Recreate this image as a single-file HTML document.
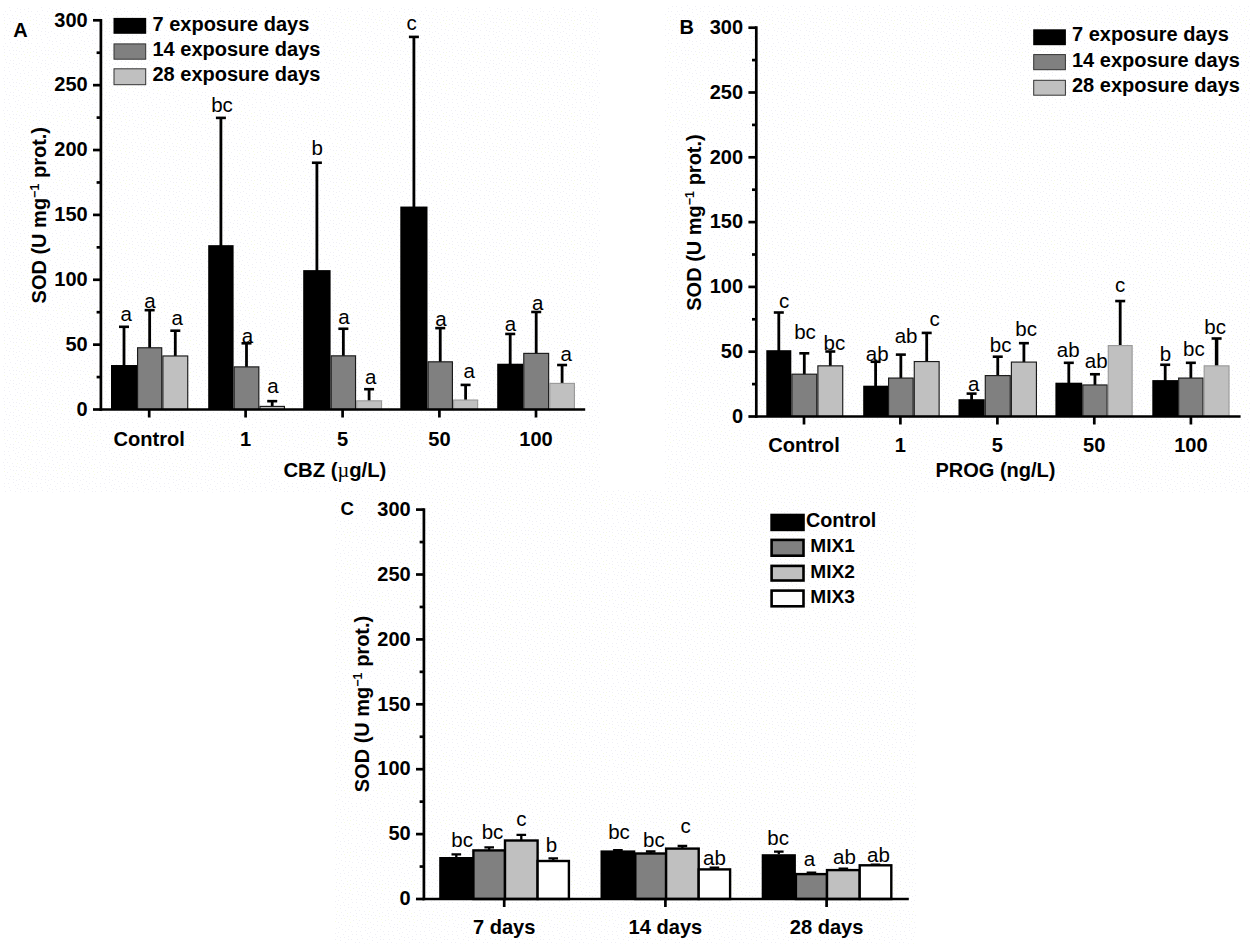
<!DOCTYPE html>
<html lang="en">
<head>
<meta charset="utf-8">
<title>SOD activity figure</title>
<style>
html,body{margin:0;padding:0;background:#fff;}
body{width:1255px;height:948px;overflow:hidden;}
svg{display:block;}
text{font-family:"Liberation Sans", sans-serif;fill:#000;}
.b{font-weight:bold;font-size:20px;}
.r{font-weight:normal;font-size:20.5px;}
.pl{font-size:20px;}
.lg{font-size:20px;}
.yl{font-size:20px;}
.xt{font-size:20.3px;}
.lc{font-size:19.1px;}
.mu{font-family:"Liberation Serif", serif;font-weight:normal;}
.xl{font-size:20.1px;}
.lg2{font-size:19.8px;}
</style>
</head>
<body>
<svg width="1255" height="948" viewBox="0 0 1255 948">
<rect width="1255" height="948" fill="#fff"/>
<defs><pattern id="dots" width="32" height="32" patternUnits="userSpaceOnUse"><rect width="32" height="32" fill="#fff"/><path d="M20 9h1v1h-1zM25 3h1v1h-1zM4 6h1v1h-1zM13 2h1v1h-1zM5 27h1v1h-1zM15 5h1v1h-1zM7 14h1v1h-1zM3 14h1v1h-1zM18 26h1v1h-1zM9 7h1v1h-1zM23 6h1v1h-1zM4 3h1v1h-1zM13 31h1v1h-1zM27 20h1v1h-1zM29 29h1v1h-1zM23 19h1v1h-1zM15 11h1v1h-1zM19 31h1v1h-1zM21 28h1v1h-1zM18 4h1v1h-1zM10 21h1v1h-1zM9 31h1v1h-1zM4 20h1v1h-1zM21 22h1v1h-1zM22 1h1v1h-1zM31 3h1v1h-1zM13 18h1v1h-1zM25 25h1v1h-1zM10 28h1v1h-1zM5 11h1v1h-1zM31 11h1v1h-1zM16 18h1v1h-1zM6 30h1v1h-1zM13 28h1v1h-1zM24 9h1v1h-1zM16 22h1v1h-1zM21 16h1v1h-1zM1 19h1v1h-1zM12 15h1v1h-1zM25 14h1v1h-1zM30 16h1v1h-1zM0 30h1v1h-1zM7 24h1v1h-1zM25 29h1v1h-1zM10 10h1v1h-1zM0 6h1v1h-1zM8 3h1v1h-1zM28 11h1v1h-1zM28 1h1v1h-1zM20 12h1v1h-1zM28 8h1v1h-1zM1 24h1v1h-1zM4 17h1v1h-1zM17 8h1v1h-1zM19 19h1v1h-1zM13 22h1v1h-1zM9 18h1v1h-1zM16 0h1v1h-1z" fill="#efeff5"/><path d="M4 23h1v1h-1zM27 17h1v1h-1zM30 26h1v1h-1zM17 15h1v1h-1zM24 22h1v1h-1zM15 25h1v1h-1zM29 23h1v1h-1zM30 20h1v1h-1z" fill="#f6fbe2"/></pattern></defs>
<rect x="3" y="7" width="597" height="485.5" fill="url(#dots)"/>
<rect x="665" y="5" width="585" height="488.5" fill="url(#dots)"/>
<rect x="334" y="490" width="582" height="453.5" fill="url(#dots)"/>
<g id="panelA">
<text x="13.2" y="37.4" class="b pl">A</text>
<text transform="translate(46.20 215.20) rotate(-90)" text-anchor="middle" class="b yl">SOD (U mg<tspan dy="-7" font-size="12.5">−1</tspan><tspan dy="7"> prot.)</tspan></text>
<path d="M124.00 366.02V326.80" stroke="#000" stroke-width="2.8" fill="none"/><path d="M119.00 326.80H129.00" stroke="#000" stroke-width="2.6" fill="none"/>
<path d="M149.65 348.21V310.16" stroke="#000" stroke-width="2.8" fill="none"/><path d="M144.65 310.16H154.65" stroke="#000" stroke-width="2.6" fill="none"/>
<path d="M175.30 356.40V330.70" stroke="#000" stroke-width="2.8" fill="none"/><path d="M170.30 330.70H180.30" stroke="#000" stroke-width="2.6" fill="none"/>
<path d="M220.90 246.16V117.89" stroke="#000" stroke-width="2.8" fill="none"/><path d="M215.90 117.89H225.90" stroke="#000" stroke-width="2.6" fill="none"/>
<path d="M246.50 367.32V343.31" stroke="#000" stroke-width="2.8" fill="none"/><path d="M241.50 343.31H251.50" stroke="#000" stroke-width="2.6" fill="none"/>
<path d="M272.20 406.84V401.16" stroke="#000" stroke-width="2.8" fill="none"/><path d="M267.20 401.16H277.20" stroke="#000" stroke-width="2.6" fill="none"/>
<path d="M316.90 271.12V162.74" stroke="#000" stroke-width="2.8" fill="none"/><path d="M311.90 162.74H321.90" stroke="#000" stroke-width="2.6" fill="none"/>
<path d="M343.35 356.27V328.75" stroke="#000" stroke-width="2.8" fill="none"/><path d="M338.35 328.75H348.35" stroke="#000" stroke-width="2.6" fill="none"/>
<path d="M369.10 401.25V389.20" stroke="#000" stroke-width="2.8" fill="none"/><path d="M364.10 389.20H374.10" stroke="#000" stroke-width="2.6" fill="none"/>
<path d="M413.90 207.55V36.90" stroke="#000" stroke-width="2.8" fill="none"/><path d="M408.90 36.90H418.90" stroke="#000" stroke-width="2.6" fill="none"/>
<path d="M440.25 362.25V328.10" stroke="#000" stroke-width="2.8" fill="none"/><path d="M435.25 328.10H445.25" stroke="#000" stroke-width="2.6" fill="none"/>
<path d="M465.60 400.47V384.91" stroke="#000" stroke-width="2.8" fill="none"/><path d="M460.60 384.91H470.60" stroke="#000" stroke-width="2.6" fill="none"/>
<path d="M510.20 364.72V333.95" stroke="#000" stroke-width="2.8" fill="none"/><path d="M505.20 333.95H515.20" stroke="#000" stroke-width="2.6" fill="none"/>
<path d="M536.20 353.80V311.98" stroke="#000" stroke-width="2.8" fill="none"/><path d="M531.20 311.98H541.20" stroke="#000" stroke-width="2.6" fill="none"/>
<path d="M562.10 383.83V365.02" stroke="#000" stroke-width="2.8" fill="none"/><path d="M557.10 365.02H567.10" stroke="#000" stroke-width="2.6" fill="none"/>
<rect x="111.00" y="365.02" width="26.00" height="44.48" fill="#000"/>
<rect x="137.57" y="347.78" width="24.15" height="61.72" fill="#808080" stroke="#1a1a1a" stroke-width="1.15"/>
<rect x="162.88" y="355.97" width="24.85" height="53.53" fill="#c0c0c0" stroke="#1a1a1a" stroke-width="1.15"/>
<rect x="208.20" y="245.16" width="25.40" height="164.34" fill="#000"/>
<rect x="234.17" y="366.89" width="24.65" height="42.61" fill="#808080" stroke="#1a1a1a" stroke-width="1.15"/>
<rect x="259.97" y="406.41" width="24.45" height="3.09" fill="#c0c0c0" stroke="#1a1a1a" stroke-width="1.15"/>
<rect x="303.20" y="270.12" width="27.40" height="139.38" fill="#000"/>
<rect x="331.18" y="355.84" width="24.35" height="53.66" fill="#808080" stroke="#1a1a1a" stroke-width="1.15"/>
<rect x="356.68" y="400.82" width="24.85" height="8.68" fill="#c0c0c0" stroke="#9a9a9a" stroke-width="1.15"/>
<rect x="400.30" y="206.55" width="27.20" height="202.95" fill="#000"/>
<rect x="428.07" y="361.82" width="24.35" height="47.67" fill="#808080" stroke="#1a1a1a" stroke-width="1.15"/>
<rect x="453.57" y="400.05" width="24.05" height="9.45" fill="#c0c0c0" stroke="#9a9a9a" stroke-width="1.15"/>
<rect x="497.20" y="363.72" width="26.00" height="45.78" fill="#000"/>
<rect x="523.78" y="353.38" width="24.85" height="56.12" fill="#808080" stroke="#1a1a1a" stroke-width="1.15"/>
<rect x="549.78" y="383.40" width="24.65" height="26.10" fill="#c0c0c0" stroke="#9a9a9a" stroke-width="1.15"/>
<path d="M100.90 18.95V410.85" stroke="#000" stroke-width="2.7" fill="none"/>
<path d="M99.55 409.50H585.20" stroke="#000" stroke-width="2.7" fill="none"/>
<path d="M93.00 409.50H100.90" stroke="#000" stroke-width="2.7"/>
<text x="87.70" y="415.70" text-anchor="end" class="b">0</text>
<path d="M96.60 377.07H100.90" stroke="#000" stroke-width="2.7"/>
<path d="M93.00 344.63H100.90" stroke="#000" stroke-width="2.7"/>
<text x="87.70" y="350.83" text-anchor="end" class="b">50</text>
<path d="M96.60 312.20H100.90" stroke="#000" stroke-width="2.7"/>
<path d="M93.00 279.77H100.90" stroke="#000" stroke-width="2.7"/>
<text x="87.70" y="285.97" text-anchor="end" class="b">100</text>
<path d="M96.60 247.33H100.90" stroke="#000" stroke-width="2.7"/>
<path d="M93.00 214.90H100.90" stroke="#000" stroke-width="2.7"/>
<text x="87.70" y="221.10" text-anchor="end" class="b">150</text>
<path d="M96.60 182.47H100.90" stroke="#000" stroke-width="2.7"/>
<path d="M93.00 150.03H100.90" stroke="#000" stroke-width="2.7"/>
<text x="87.70" y="156.23" text-anchor="end" class="b">200</text>
<path d="M96.60 117.60H100.90" stroke="#000" stroke-width="2.7"/>
<path d="M93.00 85.17H100.90" stroke="#000" stroke-width="2.7"/>
<text x="87.70" y="91.37" text-anchor="end" class="b">250</text>
<path d="M96.60 52.73H100.90" stroke="#000" stroke-width="2.7"/>
<path d="M93.00 20.30H100.90" stroke="#000" stroke-width="2.7"/>
<text x="87.70" y="26.50" text-anchor="end" class="b">300</text>
<path d="M149.20 409.50V417.50" stroke="#000" stroke-width="2.7"/>
<text x="149.20" y="445.50" text-anchor="middle" class="b xl">Control</text>
<path d="M245.60 409.50V417.50" stroke="#000" stroke-width="2.7"/>
<text x="245.60" y="445.50" text-anchor="middle" class="b xl">1</text>
<path d="M342.60 409.50V417.50" stroke="#000" stroke-width="2.7"/>
<text x="342.60" y="445.50" text-anchor="middle" class="b xl">5</text>
<path d="M439.40 409.50V417.50" stroke="#000" stroke-width="2.7"/>
<text x="439.40" y="445.50" text-anchor="middle" class="b xl">50</text>
<path d="M536.00 409.50V417.50" stroke="#000" stroke-width="2.7"/>
<text x="536.00" y="445.50" text-anchor="middle" class="b xl">100</text>
<text x="334.9" y="477.3" text-anchor="middle" class="b xt">CBZ (<tspan class="mu">µ</tspan>g/L)</text>
<rect x="113.50" y="17.90" width="32.70" height="15.90" fill="#000"/>
<text x="152.50" y="30.80" class="b lg">7 exposure days</text>
<rect x="114.00" y="43.90" width="31.70" height="15.30" fill="#808080" stroke="#333" stroke-width="1.0"/>
<text x="152.50" y="55.80" class="b lg">14 exposure days</text>
<rect x="114.00" y="68.80" width="31.70" height="15.90" fill="#c0c0c0" stroke="#333" stroke-width="1.0"/>
<text x="152.50" y="81.20" class="b lg">28 exposure days</text>
<text x="126.30" y="321.20" text-anchor="middle" class="r">a</text>
<text x="150.00" y="307.60" text-anchor="middle" class="r">a</text>
<text x="177.30" y="325.00" text-anchor="middle" class="r">a</text>
<text x="222.00" y="111.80" text-anchor="middle" class="r">bc</text>
<text x="247.40" y="342.80" text-anchor="middle" class="r">a</text>
<text x="273.00" y="393.10" text-anchor="middle" class="r">a</text>
<text x="317.30" y="154.60" text-anchor="middle" class="r">b</text>
<text x="343.90" y="324.20" text-anchor="middle" class="r">a</text>
<text x="370.70" y="383.70" text-anchor="middle" class="r">a</text>
<text x="411.50" y="30.10" text-anchor="middle" class="r">c</text>
<text x="441.00" y="325.50" text-anchor="middle" class="r">a</text>
<text x="469.10" y="378.00" text-anchor="middle" class="r">a</text>
<text x="510.50" y="331.40" text-anchor="middle" class="r">a</text>
<text x="537.80" y="309.70" text-anchor="middle" class="r">a</text>
<text x="566.10" y="360.70" text-anchor="middle" class="r">a</text>
</g>
<g id="panelB">
<text x="679.5" y="34.3" class="b pl">B</text>
<text transform="translate(700.50 222.50) rotate(-90)" text-anchor="middle" class="b yl">SOD (U mg<tspan dy="-7" font-size="12.5">−1</tspan><tspan dy="7"> prot.)</tspan></text>
<path d="M778.80 351.20V312.50" stroke="#000" stroke-width="2.8" fill="none"/><path d="M773.80 312.50H783.80" stroke="#000" stroke-width="2.6" fill="none"/>
<path d="M804.30 374.60V353.32" stroke="#000" stroke-width="2.8" fill="none"/><path d="M799.30 353.32H809.30" stroke="#000" stroke-width="2.6" fill="none"/>
<path d="M830.30 366.28V351.50" stroke="#000" stroke-width="2.8" fill="none"/><path d="M825.30 351.50H835.30" stroke="#000" stroke-width="2.6" fill="none"/>
<path d="M875.60 386.69V361.77" stroke="#000" stroke-width="2.8" fill="none"/><path d="M870.60 361.77H880.60" stroke="#000" stroke-width="2.6" fill="none"/>
<path d="M900.85 378.50V354.62" stroke="#000" stroke-width="2.8" fill="none"/><path d="M895.85 354.62H905.85" stroke="#000" stroke-width="2.6" fill="none"/>
<path d="M926.70 361.99V332.91" stroke="#000" stroke-width="2.8" fill="none"/><path d="M921.70 332.91H931.70" stroke="#000" stroke-width="2.6" fill="none"/>
<path d="M971.60 400.21V393.62" stroke="#000" stroke-width="2.8" fill="none"/><path d="M966.60 393.62H976.60" stroke="#000" stroke-width="2.6" fill="none"/>
<path d="M997.75 376.03V356.70" stroke="#000" stroke-width="2.8" fill="none"/><path d="M992.75 356.70H1002.75" stroke="#000" stroke-width="2.6" fill="none"/>
<path d="M1023.90 362.51V343.18" stroke="#000" stroke-width="2.8" fill="none"/><path d="M1018.90 343.18H1028.90" stroke="#000" stroke-width="2.6" fill="none"/>
<path d="M1068.80 383.70V362.81" stroke="#000" stroke-width="2.8" fill="none"/><path d="M1063.80 362.81H1073.80" stroke="#000" stroke-width="2.6" fill="none"/>
<path d="M1094.95 385.39V374.25" stroke="#000" stroke-width="2.8" fill="none"/><path d="M1089.95 374.25H1099.95" stroke="#000" stroke-width="2.6" fill="none"/>
<path d="M1120.20 346.00V301.06" stroke="#000" stroke-width="2.8" fill="none"/><path d="M1115.20 301.06H1125.20" stroke="#000" stroke-width="2.6" fill="none"/>
<path d="M1165.20 381.10V364.76" stroke="#000" stroke-width="2.8" fill="none"/><path d="M1160.20 364.76H1170.20" stroke="#000" stroke-width="2.6" fill="none"/>
<path d="M1190.85 378.50V362.81" stroke="#000" stroke-width="2.8" fill="none"/><path d="M1185.85 362.81H1195.85" stroke="#000" stroke-width="2.6" fill="none"/>
<path d="M1216.60 366.28V338.50" stroke="#000" stroke-width="3.5" fill="none"/><path d="M1211.60 338.50H1221.60" stroke="#000" stroke-width="2.6" fill="none"/>
<rect x="766.30" y="350.20" width="25.00" height="66.30" fill="#000"/>
<rect x="791.88" y="374.18" width="24.85" height="42.32" fill="#808080" stroke="#1a1a1a" stroke-width="1.15"/>
<rect x="817.88" y="365.85" width="24.85" height="50.65" fill="#c0c0c0" stroke="#1a1a1a" stroke-width="1.15"/>
<rect x="863.20" y="385.69" width="24.80" height="30.81" fill="#000"/>
<rect x="888.58" y="378.07" width="24.55" height="38.42" fill="#808080" stroke="#1a1a1a" stroke-width="1.15"/>
<rect x="914.28" y="361.56" width="24.85" height="54.93" fill="#c0c0c0" stroke="#1a1a1a" stroke-width="1.15"/>
<rect x="958.50" y="399.21" width="26.20" height="17.29" fill="#000"/>
<rect x="985.28" y="375.60" width="24.95" height="40.90" fill="#808080" stroke="#1a1a1a" stroke-width="1.15"/>
<rect x="1011.38" y="362.08" width="25.05" height="54.42" fill="#c0c0c0" stroke="#1a1a1a" stroke-width="1.15"/>
<rect x="1055.40" y="382.70" width="26.80" height="33.80" fill="#000"/>
<rect x="1082.78" y="384.96" width="24.35" height="31.54" fill="#808080" stroke="#1a1a1a" stroke-width="1.15"/>
<rect x="1108.28" y="345.57" width="23.85" height="70.92" fill="#c0c0c0" stroke="#9a9a9a" stroke-width="1.15"/>
<rect x="1152.30" y="380.10" width="25.80" height="36.40" fill="#000"/>
<rect x="1178.67" y="378.07" width="24.35" height="38.42" fill="#808080" stroke="#1a1a1a" stroke-width="1.15"/>
<rect x="1204.17" y="365.85" width="24.85" height="50.65" fill="#c0c0c0" stroke="#9a9a9a" stroke-width="1.15"/>
<path d="M756.30 26.35V417.85" stroke="#000" stroke-width="2.7" fill="none"/>
<path d="M754.95 416.50H1240.60" stroke="#000" stroke-width="2.7" fill="none"/>
<path d="M748.40 416.50H756.30" stroke="#000" stroke-width="2.7"/>
<text x="743.10" y="422.70" text-anchor="end" class="b">0</text>
<path d="M752.00 384.10H756.30" stroke="#000" stroke-width="2.7"/>
<path d="M748.40 351.70H756.30" stroke="#000" stroke-width="2.7"/>
<text x="743.10" y="357.90" text-anchor="end" class="b">50</text>
<path d="M752.00 319.30H756.30" stroke="#000" stroke-width="2.7"/>
<path d="M748.40 286.90H756.30" stroke="#000" stroke-width="2.7"/>
<text x="743.10" y="293.10" text-anchor="end" class="b">100</text>
<path d="M752.00 254.50H756.30" stroke="#000" stroke-width="2.7"/>
<path d="M748.40 222.10H756.30" stroke="#000" stroke-width="2.7"/>
<text x="743.10" y="228.30" text-anchor="end" class="b">150</text>
<path d="M752.00 189.70H756.30" stroke="#000" stroke-width="2.7"/>
<path d="M748.40 157.30H756.30" stroke="#000" stroke-width="2.7"/>
<text x="743.10" y="163.50" text-anchor="end" class="b">200</text>
<path d="M752.00 124.90H756.30" stroke="#000" stroke-width="2.7"/>
<path d="M748.40 92.50H756.30" stroke="#000" stroke-width="2.7"/>
<text x="743.10" y="98.70" text-anchor="end" class="b">250</text>
<path d="M752.00 60.10H756.30" stroke="#000" stroke-width="2.7"/>
<path d="M748.40 27.70H756.30" stroke="#000" stroke-width="2.7"/>
<text x="743.10" y="33.90" text-anchor="end" class="b">300</text>
<path d="M804.00 416.50V424.50" stroke="#000" stroke-width="2.7"/>
<text x="804.00" y="452.00" text-anchor="middle" class="b xl">Control</text>
<path d="M900.40 416.50V424.50" stroke="#000" stroke-width="2.7"/>
<text x="900.40" y="452.00" text-anchor="middle" class="b xl">1</text>
<path d="M997.40 416.50V424.50" stroke="#000" stroke-width="2.7"/>
<text x="997.40" y="452.00" text-anchor="middle" class="b xl">5</text>
<path d="M1094.30 416.50V424.50" stroke="#000" stroke-width="2.7"/>
<text x="1094.30" y="452.00" text-anchor="middle" class="b xl">50</text>
<path d="M1190.90 416.50V424.50" stroke="#000" stroke-width="2.7"/>
<text x="1190.90" y="452.00" text-anchor="middle" class="b xl">100</text>
<text x="995.5" y="477" text-anchor="middle" class="b">PROG (ng/L)</text>
<rect x="1033.20" y="29.30" width="32.70" height="15.90" fill="#000"/>
<text x="1072.00" y="41.20" class="b lg">7 exposure days</text>
<rect x="1033.70" y="54.60" width="31.70" height="15.10" fill="#808080" stroke="#333" stroke-width="1.0"/>
<text x="1072.00" y="67.10" class="b lg">14 exposure days</text>
<rect x="1033.70" y="80.30" width="31.70" height="14.90" fill="#c0c0c0" stroke="#333" stroke-width="1.0"/>
<text x="1072.00" y="92.10" class="b lg">28 exposure days</text>
<text x="784.10" y="308.20" text-anchor="middle" class="r">c</text>
<text x="805.00" y="338.80" text-anchor="middle" class="r">bc</text>
<text x="834.40" y="349.80" text-anchor="middle" class="r">bc</text>
<text x="877.20" y="361.30" text-anchor="middle" class="r">ab</text>
<text x="906.10" y="342.60" text-anchor="middle" class="r">ab</text>
<text x="934.60" y="325.50" text-anchor="middle" class="r">c</text>
<text x="973.80" y="391.10" text-anchor="middle" class="r">a</text>
<text x="1000.60" y="352.30" text-anchor="middle" class="r">bc</text>
<text x="1026.10" y="335.50" text-anchor="middle" class="r">bc</text>
<text x="1068.20" y="357.20" text-anchor="middle" class="r">ab</text>
<text x="1096.20" y="367.60" text-anchor="middle" class="r">ab</text>
<text x="1120.00" y="291.60" text-anchor="middle" class="r">c</text>
<text x="1165.40" y="361.00" text-anchor="middle" class="r">b</text>
<text x="1193.90" y="355.90" text-anchor="middle" class="r">bc</text>
<text x="1215.10" y="333.70" text-anchor="middle" class="r">bc</text>
</g>
<g id="panelC">
<text x="340.6" y="515.3" class="b pl" style="font-size:18.6px">C</text>
<text transform="translate(368.50 704.00) rotate(-90)" text-anchor="middle" class="b yl">SOD (U mg<tspan dy="-7" font-size="12.5">−1</tspan><tspan dy="7"> prot.)</tspan></text>
<path d="M456.30 857.00V854.30M451.50 854.30H461.10" stroke="#000" stroke-width="2.3" fill="none"/>
<path d="M489.20 850.40V847.30M484.40 847.30H494.00" stroke="#000" stroke-width="2.3" fill="none"/>
<path d="M521.30 840.50V834.90M516.50 834.90H526.10" stroke="#000" stroke-width="2.3" fill="none"/>
<path d="M553.25 861.00V858.30M548.45 858.30H558.05" stroke="#000" stroke-width="2.3" fill="none"/>
<rect x="439.20" y="857.00" width="34.20" height="42.00" fill="#000"/>
<rect x="473.40" y="850.40" width="31.60" height="48.60" fill="#808080" stroke="#000" stroke-width="2.4"/>
<rect x="505.00" y="840.50" width="32.60" height="58.50" fill="#c0c0c0" stroke="#000" stroke-width="2.4"/>
<rect x="537.60" y="861.00" width="31.30" height="38.00" fill="#fff" stroke="#000" stroke-width="2.4"/>
<path d="M617.90 850.40V850.20M613.10 850.20H622.70" stroke="#000" stroke-width="2.3" fill="none"/>
<path d="M650.70 853.50V851.50M645.90 851.50H655.50" stroke="#000" stroke-width="2.3" fill="none"/>
<path d="M682.40 848.60V846.00M677.60 846.00H687.20" stroke="#000" stroke-width="2.3" fill="none"/>
<path d="M714.40 869.40V867.70M709.60 867.70H719.20" stroke="#000" stroke-width="2.3" fill="none"/>
<rect x="600.50" y="850.40" width="34.80" height="48.60" fill="#000"/>
<rect x="635.30" y="853.50" width="30.80" height="45.50" fill="#808080" stroke="#000" stroke-width="2.4"/>
<rect x="666.10" y="848.60" width="32.60" height="50.40" fill="#c0c0c0" stroke="#000" stroke-width="2.4"/>
<rect x="698.70" y="869.40" width="31.40" height="29.60" fill="#fff" stroke="#000" stroke-width="2.4"/>
<path d="M778.80 854.20V851.60M774.00 851.60H783.60" stroke="#000" stroke-width="2.3" fill="none"/>
<path d="M811.45 874.10V872.60M806.65 872.60H816.25" stroke="#000" stroke-width="2.3" fill="none"/>
<path d="M843.35 870.10V868.60M838.55 868.60H848.15" stroke="#000" stroke-width="2.3" fill="none"/>
<path d="M875.50 865.30V864.60M870.70 864.60H880.30" stroke="#000" stroke-width="2.3" fill="none"/>
<rect x="761.70" y="854.20" width="34.20" height="44.80" fill="#000"/>
<rect x="795.90" y="874.10" width="31.10" height="24.90" fill="#808080" stroke="#000" stroke-width="2.4"/>
<rect x="827.00" y="870.10" width="32.70" height="28.90" fill="#c0c0c0" stroke="#000" stroke-width="2.4"/>
<rect x="859.70" y="865.30" width="31.60" height="33.70" fill="#fff" stroke="#000" stroke-width="2.4"/>
<path d="M423.90 508.25V900.35" stroke="#000" stroke-width="2.7" fill="none"/>
<path d="M422.55 899.00H908.80" stroke="#000" stroke-width="2.7" fill="none"/>
<path d="M416.00 899.00H423.90" stroke="#000" stroke-width="2.7"/>
<text x="410.70" y="905.20" text-anchor="end" class="b">0</text>
<path d="M419.60 866.55H423.90" stroke="#000" stroke-width="2.7"/>
<path d="M416.00 834.10H423.90" stroke="#000" stroke-width="2.7"/>
<text x="410.70" y="840.30" text-anchor="end" class="b">50</text>
<path d="M419.60 801.65H423.90" stroke="#000" stroke-width="2.7"/>
<path d="M416.00 769.20H423.90" stroke="#000" stroke-width="2.7"/>
<text x="410.70" y="775.40" text-anchor="end" class="b">100</text>
<path d="M419.60 736.75H423.90" stroke="#000" stroke-width="2.7"/>
<path d="M416.00 704.30H423.90" stroke="#000" stroke-width="2.7"/>
<text x="410.70" y="710.50" text-anchor="end" class="b">150</text>
<path d="M419.60 671.85H423.90" stroke="#000" stroke-width="2.7"/>
<path d="M416.00 639.40H423.90" stroke="#000" stroke-width="2.7"/>
<text x="410.70" y="645.60" text-anchor="end" class="b">200</text>
<path d="M419.60 606.95H423.90" stroke="#000" stroke-width="2.7"/>
<path d="M416.00 574.50H423.90" stroke="#000" stroke-width="2.7"/>
<text x="410.70" y="580.70" text-anchor="end" class="b">250</text>
<path d="M419.60 542.05H423.90" stroke="#000" stroke-width="2.7"/>
<path d="M416.00 509.60H423.90" stroke="#000" stroke-width="2.7"/>
<text x="410.70" y="515.80" text-anchor="end" class="b">300</text>
<path d="M504.20 899.00V907.00" stroke="#000" stroke-width="2.7"/>
<text x="504.20" y="934.20" text-anchor="middle" class="b xl">7 days</text>
<path d="M665.40 899.00V907.00" stroke="#000" stroke-width="2.7"/>
<text x="665.40" y="934.20" text-anchor="middle" class="b xl">14 days</text>
<path d="M826.60 899.00V907.00" stroke="#000" stroke-width="2.7"/>
<text x="826.60" y="934.20" text-anchor="middle" class="b xl">28 days</text>
<rect x="770.30" y="513.70" width="34.50" height="17.50" fill="#000"/>
<text x="805.90" y="527.20" class="b lg2">Control</text>
<rect x="771.60" y="539.90" width="31.90" height="15.80" fill="#808080" stroke="#000" stroke-width="2.6"/>
<text x="810.30" y="552.20" class="b lc">MIX1</text>
<rect x="771.60" y="565.90" width="31.90" height="14.60" fill="#c0c0c0" stroke="#000" stroke-width="2.6"/>
<text x="810.30" y="577.70" class="b lc">MIX2</text>
<rect x="771.60" y="590.60" width="31.90" height="15.70" fill="#fff" stroke="#000" stroke-width="2.6"/>
<text x="810.30" y="603.20" class="b lc">MIX3</text>
<text x="462.10" y="847.30" text-anchor="middle" class="r">bc</text>
<text x="492.50" y="839.10" text-anchor="middle" class="r">bc</text>
<text x="521.30" y="825.60" text-anchor="middle" class="r">c</text>
<text x="551.40" y="851.80" text-anchor="middle" class="r">b</text>
<text x="619.00" y="839.10" text-anchor="middle" class="r">bc</text>
<text x="653.90" y="847.30" text-anchor="middle" class="r">bc</text>
<text x="685.60" y="832.50" text-anchor="middle" class="r">c</text>
<text x="714.40" y="864.60" text-anchor="middle" class="r">ab</text>
<text x="778.20" y="845.20" text-anchor="middle" class="r">bc</text>
<text x="809.50" y="866.40" text-anchor="middle" class="r">a</text>
<text x="844.50" y="863.80" text-anchor="middle" class="r">ab</text>
<text x="878.40" y="861.80" text-anchor="middle" class="r">ab</text>
</g>
</svg>
</body>
</html>
